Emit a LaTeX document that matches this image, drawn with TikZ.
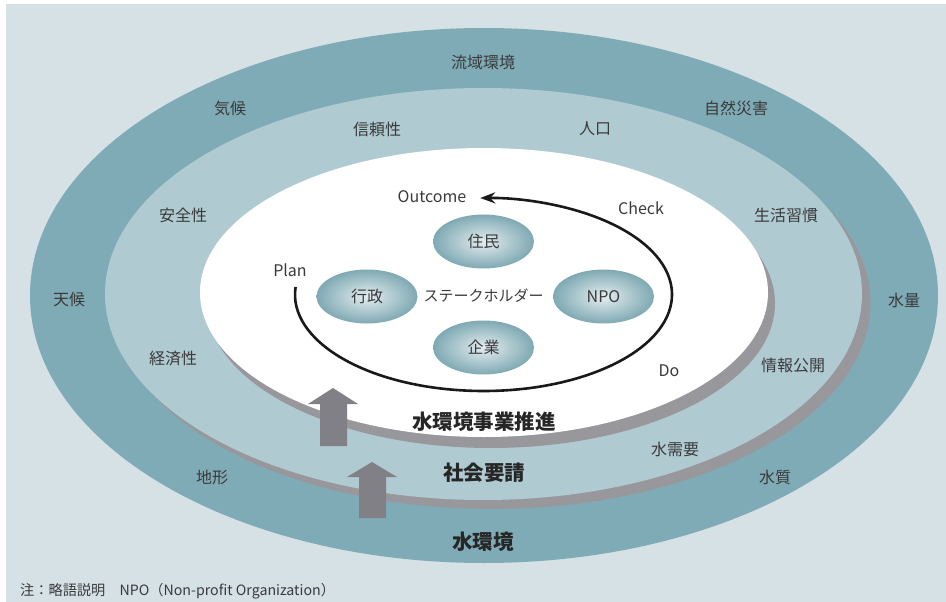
\documentclass[tikz,border=0pt]{standalone}
\usepackage{fontspec}
\setmainfont{Noto Sans CJK JP}
\usetikzlibrary{arrows.meta,shapes.geometric}
\definecolor{bgc}{HTML}{D6E1E5}
\definecolor{outerc}{HTML}{7FABB7}
\definecolor{midc}{HTML}{B0CAD2}
\definecolor{shadowc}{HTML}{98989C}
\definecolor{arrowc}{HTML}{808086}
\definecolor{txtc}{HTML}{3A3A3A}
\definecolor{boldc}{HTML}{262626}
\definecolor{stkin}{HTML}{E4EDF0}
\definecolor{stkout}{HTML}{7FA9B3}
\begin{document}
\begin{tikzpicture}[x=1pt,y=-1pt,
  lbl/.style={text=txtc,font=\fontsize{16}{18}\selectfont,inner sep=0pt},
  biglbl/.style={text=boldc,font=\fontsize{20.5}{22}\selectfont\bfseries,inner sep=0pt},
  stk/.style={ellipse,minimum width=101pt,minimum height=54pt,inner sep=0pt,
    inner color=stkin,outer color=stkout,text=txtc,font=\fontsize{16}{18}\selectfont},
  blockarrow/.style={fill=arrowc},
  pdca/.style={line width=2.6pt,draw=black!90,-{Stealth[length=15pt,width=11pt]}}
]
\useasboundingbox (0,0) rectangle (946,602);
\fill[white] (0,0) rectangle (946,602);
\fill[bgc] (6,4) rectangle (946,602);
% ellipses
\fill[outerc] (484,295.5) ellipse [x radius=454, y radius=267.5];
\fill[shadowc] (492,303) ellipse [x radius=378.5, y radius=206];
\fill[midc] (483.5,294) ellipse [x radius=378.5, y radius=206];
\fill[shadowc] (491,303.5) ellipse [x radius=284, y radius=144.5];
\fill[white] (484,292.5) ellipse [x radius=284, y radius=144.5];
% stakeholders
\node[stk] (jumin) at (483.5,241.5) {住民};
\node[stk] (gyosei) at (367,296.5) {行政};
\node[stk] (npo) at (603.5,296.5) {NPO};
\node[stk] (kigyo) at (483.5,347.5) {企業};
\node[lbl,font=\fontsize{15}{17}\selectfont] (sh) at (483.5,296) {ステークホルダー};
% PDCA cycle
\draw[pdca] (483.5,294.5) ++(184.5:188.5 and 96.5)
  arc[start angle=184.5, end angle=-91, x radius=188.5, y radius=96.5];
\node[lbl] (plan) at (290,270) {Plan};
\node[lbl] (outcome) at (432,197) {Outcome};
\node[lbl] (check) at (641,208) {Check};
\node[lbl] (do) at (669,371) {Do};
% outer ring labels
\node[lbl] (ryuiki) at (483,62) {流域環境};
\node[lbl] (kiko) at (230,108) {気候};
\node[lbl] (shizen) at (736,108) {自然災害};
\node[lbl] (tenko) at (69,299) {天候};
\node[lbl] (suiryo) at (904,300) {水量};
\node[lbl] (chikei) at (212,477) {地形};
\node[lbl] (suishitsu) at (775,477) {水質};
% middle ring labels
\node[lbl] (shinrai) at (377,129) {信頼性};
\node[lbl] (jinko) at (595,129) {人口};
\node[lbl] (anzen) at (183,215) {安全性};
\node[lbl] (seikatsu) at (786,215) {生活習慣};
\node[lbl] (keizai) at (173,358) {経済性};
\node[lbl] (joho) at (793,365) {情報公開};
\node[lbl] (juyo) at (675,449) {水需要};
% bold labels
\node[biglbl] (jigyo) at (484,422) {水環境事業推進};
\node[biglbl] (shakai) at (484,473) {社会要請};
\node[biglbl] (mizu) at (483,542) {水環境};
% block arrows
\fill[blockarrow] (333,388) -- (358,404) -- (347,404) -- (347,446) -- (320,446) -- (320,404) -- (308,404) -- cycle;
\fill[blockarrow] (372,462) -- (397,477) -- (386,477) -- (386,518) -- (359,518) -- (359,477) -- (347,477) -- cycle;
% note
\node[lbl,anchor=west,font=\fontsize{14.2}{16}\selectfont] (note) at (20,591) {注：略語説明　NPO（Non-profit Organization）};
\end{tikzpicture}
\end{document}
